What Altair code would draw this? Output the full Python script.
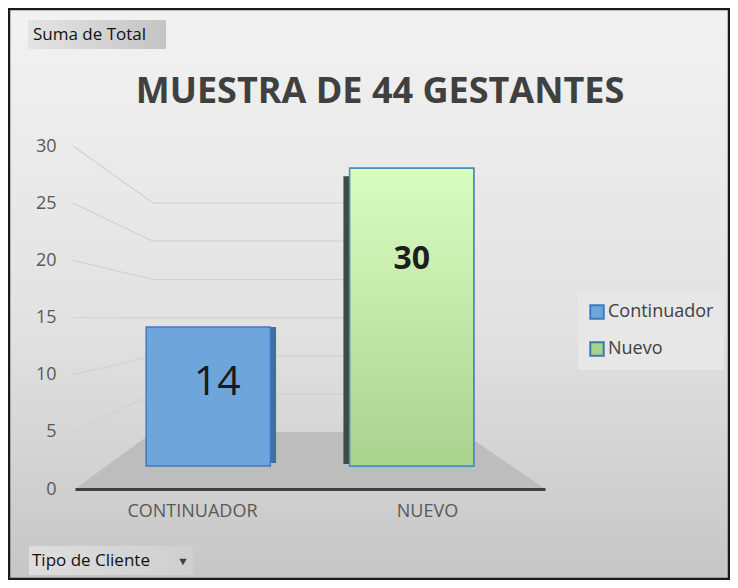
import altair as alt
import pandas as pd

# ---- data ----
categories = ["CONTINUADOR", "NUEVO"]
series = ["Continuador", "Nuevo"]
values = [14, 30]
tick_values = [0, 5, 10, 15, 20, 25, 30]
title_text = "MUESTRA DE 44 GESTANTES"
field_button = "Suma de Total"
axis_button = "Tipo de Cliente"

bars_df = pd.DataFrame({"cat": categories, "serie": series, "v": values})
ticks_df = pd.DataFrame({"v": tick_values})
one = pd.DataFrame({"k": [0]})

W, H = 470, 343
PAD = {"left": 67, "top": 138, "right": 185, "bottom": 91}
FONT = "Open Sans"


def vgrad(stops, horizontal=False):
    return {
        "gradient": "linear",
        "x1": 0, "y1": 0,
        "x2": 1 if horizontal else 0,
        "y2": 0 if horizontal else 1,
        "stops": [{"offset": o, "color": c} for o, c in stops],
    }


yscale = alt.Scale(domain=[0, 30], nice=False, zero=True)
yaxis = alt.Axis(title=None, values=tick_values, labelFont=FONT, labelFontSize=18,
                 labelColor="#595959", labelPadding=19, domain=False, ticks=False,
                 tickSize=0, grid=False, zindex=1)

# ---- background & decorations ----
background = alt.Chart(one).mark_rect(
    fill=vgrad([(0, "#f2f2f2"), (0.55, "#e2e2e2"), (1, "#c6c6c6")]),
    stroke="#1b1b1b", strokeWidth=2.5,
).encode(x=alt.value(-66), x2=alt.value(654), y=alt.value(-137), y2=alt.value(433))

grid_base = alt.Chart(ticks_df).transform_filter("datum.v > 0").transform_calculate(
    back="4.924 + 0.670 * datum.v"
)
grid_diag = grid_base.mark_rule(color="#d2d2d2", strokeWidth=1.2).encode(
    x=alt.value(-2), x2=alt.value(78),
    y=alt.Y("v:Q", scale=yscale, axis=yaxis), y2="back:Q",
)
grid_h = grid_base.mark_rule(color="#d2d2d2", strokeWidth=1.2).encode(
    x=alt.value(78), x2=alt.value(387),
    y=alt.Y("back:Q", scale=yscale, axis=yaxis),
)

floor = alt.Chart(one).mark_point(
    shape="M -1 0.1213 L 1 0.1213 L 0.647 -0.1213 L -0.668 -0.1213 Z",
    filled=True, fill="#bdbdbd", opacity=1, size=220900, strokeWidth=0,
).encode(x=alt.value(235), y=alt.value(314.5))

axes = alt.Chart(bars_df).mark_point(opacity=0).encode(
    x=alt.X("cat:N", sort=categories,
            scale=alt.Scale(type="band", paddingInner=0, paddingOuter=0),
            axis=alt.Axis(title=None, labelFont=FONT, labelFontSize=18, labelColor="#595959",
                          labelPadding=13, domainColor="#3f3f3f", domainWidth=3, ticks=False,
                          grid=False, zindex=1, labelAngle=0)),
    y=alt.Y("v:Q", scale=yscale, axis=yaxis),
)

btn1 = alt.Chart(one).mark_rect(
    fill=vgrad([(0, "#e4e4e4"), (1, "#c4c4c4")], horizontal=True)
).encode(x=alt.value(-47), x2=alt.value(91), y=alt.value(-126), y2=alt.value(-97))
btn1_t = alt.Chart(one).mark_text(font=FONT, fontSize=17, color="#111111", align="left",
                                  baseline="middle").encode(
    x=alt.value(-42), y=alt.value(-111), text=alt.value(field_button))

btn2 = alt.Chart(one).mark_rect(
    fill=vgrad([(0, "#dedede"), (1, "#cfcfcf")], horizontal=True)
).encode(x=alt.value(-46), x2=alt.value(118), y=alt.value(400), y2=alt.value(429))
btn2_t = alt.Chart(one).mark_text(font=FONT, fontSize=17, color="#111111", align="left",
                                  baseline="middle").encode(
    x=alt.value(-43), y=alt.value(415), text=alt.value(axis_button))
btn2_a = alt.Chart(one).mark_point(shape="triangle-down", filled=True, size=55,
                                   color="#404040", opacity=1).encode(
    x=alt.value(108), y=alt.value(416))

title = alt.Chart(one).mark_text(font=FONT, fontSize=36, fontWeight="bold", color="#404040",
                                 align="center", baseline="middle").encode(
    x=alt.value(305), y=alt.value(-54), text=alt.value(title_text))

base = alt.layer(background, grid_diag, grid_h, floor, axes, btn1, btn1_t, btn2, btn2_t,
                 btn2_a, title)

# ---- bars ----
bx = alt.X("cat:N", sort=categories,
           scale=alt.Scale(type="band", paddingInner=0.39, paddingOuter=0.35), axis=None)
by = alt.Y("v:Q", scale=alt.Scale(domain=[-2.32, 32.23], nice=False, zero=False), axis=None)
bbase = alt.Chart(bars_df).encode(x=bx, y=by, y2=alt.datum(0))

face_c = bbase.transform_filter(alt.datum.cat == "CONTINUADOR").mark_bar(
    width=6, xOffset=64.8, y2Offset=-3, color="#3f6fa6")
face_n = bbase.transform_filter(alt.datum.cat == "NUEVO").mark_bar(
    width=6, xOffset=-65.3, yOffset=8, y2Offset=-2, color="#3b4d40")

leg = alt.Legend(title=None, orient="none", legendX=503, legendY=147, padding=10,
                 fillColor="#e7e7e7", symbolType="square", symbolSize=180,
                 symbolStrokeWidth=2, labelFont=FONT, labelFontSize=18,
                 labelColor="#404040", rowPadding=15, labelOffset=2)

bars = bbase.mark_bar(strokeWidth=1.5).encode(
    fill=alt.Fill("serie:N", scale=alt.Scale(domain=series, range=["#6ea6dc", "#a9d18e"]),
                  legend=leg),
    stroke=alt.Stroke("serie:N", scale=alt.Scale(domain=series, range=["#3c7bc2", "#3d7aa8"]),
                      legend=leg),
)
nuevo_grad = bbase.transform_filter(alt.datum.cat == "NUEVO").mark_bar(
    fill=vgrad([(0, "#dafdc2"), (1, "#aad28f")]), stroke="#4a8cc4", strokeWidth=1.5)

t14 = alt.Chart(bars_df).transform_filter(alt.datum.cat == "CONTINUADOR").mark_text(
    font=FONT, fontSize=41, color="#1a1a1a", dx=9, dy=56, baseline="middle"
).encode(x=bx, y=by, text="v:Q")
t30 = alt.Chart(bars_df).transform_filter(alt.datum.cat == "NUEVO").mark_text(
    font=FONT, fontSize=32, fontWeight="bold", color="#1e1e1e", dy=91, baseline="middle"
).encode(x=bx, y=by, text="v:Q")

bars_group = alt.layer(face_c, face_n, bars, nuevo_grad, t14, t30)

chart = alt.layer(base, bars_group).resolve_scale(
    x="independent", y="independent"
).properties(
    width=W, height=H, padding=PAD,
    autosize=alt.AutoSizeParams(type="none"),
    background="#dcdcdc",
).configure_view(stroke=None)

chart.save("out.html", embed_options={"renderer": "svg", "actions": False})
